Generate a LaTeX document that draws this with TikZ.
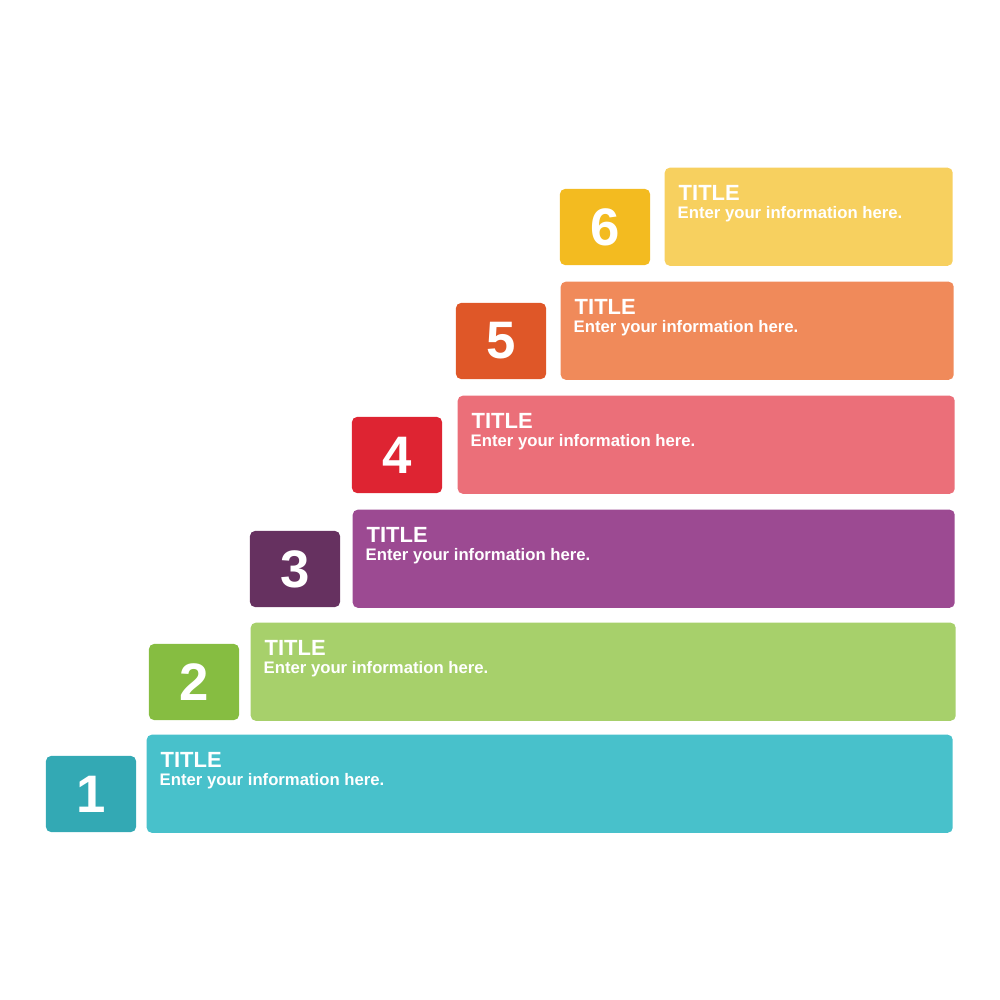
\documentclass[tikz,border=0pt]{standalone}
\usepackage{fontspec}
\setmainfont{Liberation Sans}
\definecolor{stepA}{HTML}{33A9B4}
\definecolor{barA}{HTML}{48C1CB}
\definecolor{stepB}{HTML}{86BD41}
\definecolor{barB}{HTML}{A7D06B}
\definecolor{stepC}{HTML}{663160}
\definecolor{barC}{HTML}{9C4A92}
\definecolor{stepD}{HTML}{DE2432}
\definecolor{barD}{HTML}{EB6F79}
\definecolor{stepE}{HTML}{DF5728}
\definecolor{barE}{HTML}{F08A5A}
\definecolor{stepF}{HTML}{F3BB20}
\definecolor{barF}{HTML}{F7D05F}
\begin{document}
\begin{tikzpicture}[x=0.01cm,y=-0.01cm,
    numbox/.style={rectangle, rounded corners=0.05cm, inner sep=0pt,
      minimum width=0.9cm, minimum height=0.76cm, text=white,
      font=\fontsize{15}{15}\selectfont\bfseries},
    barbox/.style={rectangle, rounded corners=0.05cm, inner sep=0pt,
      minimum height=0.98cm, anchor=north west},
    titletext/.style={anchor=base west, inner sep=0pt, text=white,
      font=\fontsize{6.25}{6.25}\selectfont\bfseries},
    infotext/.style={anchor=base west, inner sep=0pt, text=white,
      font=\fontsize{4.75}{4.75}\selectfont\bfseries}]
    \useasboundingbox (0,0) rectangle (1000,1000);

    % Escalones
    \foreach \n/\nx/\bx/\br/\by/\dark/\light in {1/46/146/952/734/stepA/barA,
        2/149/250/955/622/stepB/barB, 3/250/352/954/509/stepC/barC,
        4/352/457/954/395/stepD/barD, 5/456/560/953/281/stepE/barE,
        6/560/664/952/167/stepF/barF} {
      \pgfmathsetmacro\w{(\br-\bx)*0.01}
      \node[barbox, fill=\light, minimum width=\w cm] (bar\n) at (\bx,\by) {};
      \node[numbox, fill=\dark] (num\n) at (\nx+45,\by+60) {\n};
      \node[titletext] (title\n) at ([shift={(14,33)}]bar\n.north west) {TITLE};
      \node[infotext] (info\n) at ([shift={(13,51)}]bar\n.north west) {Enter your information here.};
    }
\end{tikzpicture}
\end{document}
